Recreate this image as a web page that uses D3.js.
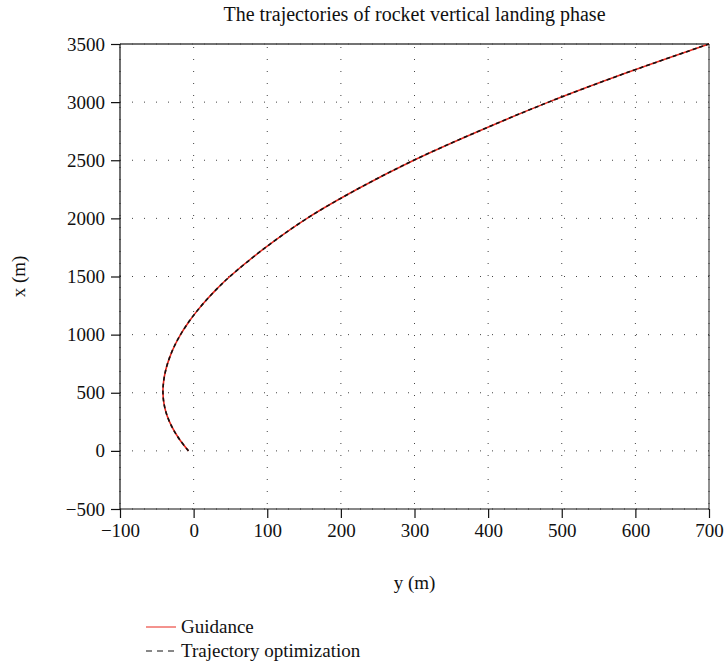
<!DOCTYPE html>
<html>
<head>
<meta charset="utf-8">
<script src="https://cdn.jsdelivr.net/npm/d3@7"></script>
<style>
  html, body { margin: 0; padding: 0; background: #fff; }
  svg text { font-family: "Liberation Serif", "DejaVu Serif", serif; fill: #111; }
</style>
</head>
<body>
<svg id="chart" width="725" height="665"></svg>
<script>
// Data: altitude x (m) and cross-range y (m)
const altitudeX = [0, 100, 200, 300, 400, 509, 600, 700, 800, 900, 1000, 1100, 1200, 1300, 1400, 1500, 1750, 2000, 2250, 2500, 2750, 3000, 3250, 3500];
const guidanceY = [-7, -19.3, -28.9, -35.9, -40.1, -41.7, -40.7, -37.7, -32.8, -26.2, -17.8, -7.6, 4.2, 17.6, 32.6, 49.2, 97.8, 154, 222, 299, 387, 482, 587, 700];
const optimY    = [-7, -19.3, -28.9, -35.9, -40.1, -41.7, -40.7, -37.7, -32.8, -26.2, -17.8, -7.6, 4.2, 17.6, 32.6, 49.2, 97.8, 154, 222, 299, 387, 482, 587, 700];
const xTicks = [-100, 0, 100, 200, 300, 400, 500, 600, 700];
const yTicks = [-500, 0, 500, 1000, 1500, 2000, 2500, 3000, 3500];
const seriesNames = ["Guidance", "Trajectory optimization"];
const titleText = "The trajectories of rocket vertical landing phase";

const svg = d3.select("#chart");
const L = 120, R = 709, T = 44, B = 509;
const FS = 19;
const sx = d3.scaleLinear().domain([-100, 700]).range([L, R]);
const sy = d3.scaleLinear().domain([-500, 3500]).range([B, T]);
const fmt = d => d < 0 ? "\u2212" + Math.abs(d) : String(d);

// grid
const grid = svg.append("g");
grid.selectAll("line.v").data(xTicks).enter().append("line")
  .attr("x1", d => sx(d)).attr("x2", d => sx(d)).attr("y1", B).attr("y2", T)
  .attr("stroke", "#444").attr("stroke-width", 1).attr("stroke-dasharray", "1,11").attr("stroke-dashoffset", -5);
grid.selectAll("line.h").data(yTicks).enter().append("line")
  .attr("x1", L).attr("x2", R).attr("y1", d => sy(d)).attr("y2", d => sy(d))
  .attr("stroke", "#444").attr("stroke-width", 1).attr("stroke-dasharray", "1,11").attr("stroke-dashoffset", -12);

// frame top/right
svg.append("line").attr("x1", L).attr("x2", R).attr("y1", T).attr("y2", T).attr("stroke", "#444").attr("stroke-width", 1.5);
svg.append("line").attr("x1", R).attr("x2", R).attr("y1", T).attr("y2", B).attr("stroke", "#222").attr("stroke-width", 1);

// axes
const xAxis = svg.append("g").attr("transform", `translate(0,${B})`)
  .call(d3.axisBottom(sx).tickValues(xTicks).tickFormat(fmt).tickSize(9).tickPadding(6));
const yAxis = svg.append("g").attr("transform", `translate(${L},0)`)
  .call(d3.axisLeft(sy).tickValues(yTicks).tickFormat(fmt).tickSize(9).tickPadding(6));
[xAxis, yAxis].forEach(a => {
  a.select(".domain").attr("stroke", "#111").attr("stroke-width", 1.2);
  a.selectAll(".tick line").attr("stroke", "#111").attr("stroke-width", 1.2);
  a.selectAll(".tick text").attr("font-size", FS).attr("fill", "#111")
    .attr("font-family", "Liberation Serif, DejaVu Serif, serif");
});
xAxis.select(".domain").attr("d", `M${L},0H${R}`);
yAxis.select(".domain").attr("d", `M0,${B}V${T}`);

// lines
const line = d3.line().curve(d3.curveCatmullRom.alpha(0.5));
const ptsG = altitudeX.map((x, i) => [sx(guidanceY[i]), sy(x)]);
const ptsO = altitudeX.map((x, i) => [sx(optimY[i]), sy(x)]);
svg.append("path").attr("d", line(ptsG)).attr("fill", "none").attr("stroke", "#e8261c").attr("stroke-width", 1.6);
svg.append("path").attr("d", line(ptsO)).attr("fill", "none").attr("stroke", "#111").attr("stroke-width", 1.6).attr("stroke-dasharray", "4,3");

// title & labels
svg.append("text").attr("x", (L + R) / 2).attr("y", 21).attr("text-anchor", "middle").attr("font-size", FS + 1).text(titleText);
svg.append("text").attr("x", (L + R) / 2).attr("y", 589).attr("text-anchor", "middle").attr("font-size", FS).text("y (m)");
svg.append("text").attr("transform", `translate(25,${(T + B) / 2}) rotate(-90)`).attr("text-anchor", "middle").attr("font-size", FS).text("x (m)");

// legend
const lg = svg.append("g");
lg.append("line").attr("x1", 146).attr("x2", 176).attr("y1", 627).attr("y2", 627).attr("stroke", "#e8261c").attr("stroke-width", 1);
lg.append("line").attr("x1", 146).attr("x2", 176).attr("y1", 651).attr("y2", 651).attr("stroke", "#111").attr("stroke-width", 1).attr("stroke-dasharray", "6,5");
lg.append("text").attr("x", 181).attr("y", 633).attr("font-size", FS).text(seriesNames[0]);
lg.append("text").attr("x", 181).attr("y", 657).attr("font-size", FS).text(seriesNames[1]);
</script>
</body>
</html>
